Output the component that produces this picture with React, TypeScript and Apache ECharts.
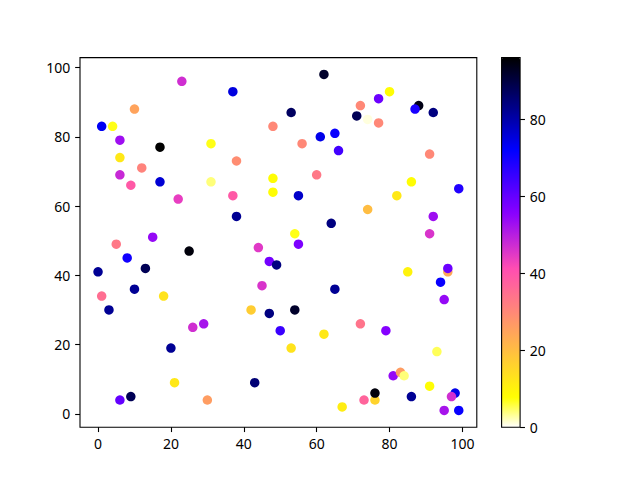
import React, { useEffect, useRef } from "react";
import * as echarts from "echarts";

// Scatter data: x, y and colour value
const xs = [
  23, 37, 10, 1, 4, 48, 6, 17, 31, 38, 6, 12, 6, 9, 17, 31, 22, 37, 48, 48, 38, 15, 5, 5, 44,
  62, 80, 77, 72, 88, 87, 92, 53, 71, 74, 77, 61, 65, 56, 66, 91, 60, 86, 99, 55, 82, 74, 64, 92, 91, 54, 55,
  25, 8, 47, 49, 0, 13, 45, 1, 10, 18, 3, 42, 47, 50, 26, 29, 20, 21, 43, 6, 9, 30,
  85, 96, 96, 94, 65, 95, 54, 72, 79, 62, 53, 93, 81, 83, 84, 91, 98, 97, 76, 76, 73, 86, 67, 95, 99,
];
const ys = [
  96, 93, 88, 83, 83, 83, 79, 77, 78, 73, 74, 71, 69, 66, 67, 67, 62, 63, 68, 64, 57, 51, 48, 49, 48,
  98, 93, 91, 89, 89, 88, 87, 87, 86, 85, 84, 80, 81, 78, 76, 75, 69, 67, 65, 63, 63, 59, 55, 57, 52, 52, 49,
  47, 45, 44, 43, 41, 42, 37, 34, 36, 34, 30, 30, 29, 24, 25, 26, 19, 9, 9, 4, 5, 4,
  41, 41, 42, 38, 36, 33, 30, 26, 24, 23, 19, 18, 11, 12, 11, 8, 6, 5, 4, 6, 4, 5, 2, 1, 1,
];
const cs = [
  47, 75, 25, 73, 7, 30, 53, 96, 7, 29, 12, 31, 48, 39, 76, 4, 44, 39, 8, 8, 82, 54, 0, 33, 45,
  92, 8, 59, 30, 94, 69, 84, 87, 88, 1, 30, 74, 71, 30, 64, 30, 33, 8, 68, 77, 12, 20, 84, 53, 46, 7, 57,
  95, 70, 58, 84, 82, 88, 46, 35, 82, 13, 82, 17, 84, 65, 47, 52, 82, 12, 85, 60, 88, 26,
  10, 24, 59, 71, 82, 54, 92, 34, 56, 12, 13, 5, 54, 26, 4, 8, 74, 47, 16, 95, 37, 82, 11, 52, 71,
];
const xTicks = [0, 20, 40, 60, 80, 100];
const yTicks = [0, 20, 40, 60, 80, 100];
const cbTicks = [0, 20, 40, 60, 80];
const cMin = 0;
const cMax = 96;

// matplotlib "gnuplot2" colormap, used reversed
function gnuplot2(t: number): string {
  const clip = (v: number) => Math.max(0, Math.min(1, v));
  const r = clip(t / 0.32 - 0.78125);
  const g = clip(2 * t - 0.84);
  const b = clip(t < 0.25 ? 4 * t : t < 0.92 ? -2 * t + 1.84 : t / 0.08 - 11.5);
  const h = (v: number) => Math.round(v * 255).toString(16).padStart(2, "0");
  return "#" + h(r) + h(g) + h(b);
}
const N = 128;
const cmapStops: string[] = [];
for (let k = 0; k <= N; k++) cmapStops.push(gnuplot2(1 - k / N));

const FONT = "Noto Sans";

export default function App() {
  const ref = useRef<HTMLDivElement>(null);
  useEffect(() => {
    if (!ref.current) return;
    const chart = echarts.init(ref.current, null, { renderer: "svg" });
    const label = { color: "#000", fontSize: 14, fontFamily: FONT };
    const tick = { show: true, length: 4.86, lineStyle: { color: "#000", width: 1.1 } };
    chart.setOption({
      animation: false,
      backgroundColor: "#fff",
      grid: [
        { left: 80, top: 57.6, width: 396.8, height: 369.6, show: true, borderColor: "#000", borderWidth: 1.1, backgroundColor: "transparent" },
        { left: 501.6, top: 57.6, width: 18.5, height: 369.6, show: true, borderColor: "#000", borderWidth: 1.1, backgroundColor: "transparent", z: 10 },
      ],
      xAxis: [
        {
          type: "value", gridIndex: 0, min: -4.95, max: 103.95,
          splitLine: { show: false }, axisLine: { show: false, onZero: false },
          axisTick: { ...tick, customValues: xTicks },
          axisLabel: { ...label, margin: 9.7, customValues: xTicks },
        },
        { type: "value", gridIndex: 1, min: 0, max: 1, show: false },
      ],
      yAxis: [
        {
          type: "value", gridIndex: 0, min: -3.85, max: 102.85,
          splitLine: { show: false }, axisLine: { show: false, onZero: false },
          axisTick: { ...tick, customValues: yTicks },
          axisLabel: { ...label, margin: 9.7, customValues: yTicks },
        },
        {
          type: "value", gridIndex: 1, position: "right", min: cMin, max: cMax,
          splitLine: { show: false }, axisLine: { show: false, onZero: false },
          axisTick: { ...tick, customValues: cbTicks },
          axisLabel: { ...label, margin: 9.7, customValues: cbTicks },
        },
      ],
      visualMap: {
        type: "continuous", min: cMin, max: cMax, dimension: 2, seriesIndex: 0,
        left: 501.6, top: 57.6, itemWidth: 18.5, itemHeight: 369.6, padding: 0,
        calculable: false, hoverLink: false, showLabel: false,
        inRange: { color: cmapStops, opacity: 1 },
      },
      series: [
        {
          type: "scatter", xAxisIndex: 0, yAxisIndex: 0, symbolSize: 9.5,
          itemStyle: { opacity: 1 },
          data: xs.map((x, i) => [x, ys[i], cs[i]]),
          emphasis: { disabled: true },
        },
        { type: "scatter", xAxisIndex: 1, yAxisIndex: 1, data: [], silent: true },
      ],
    });
    return () => chart.dispose();
  }, []);
  return <div ref={ref} style={{ position: "fixed", left: 0, top: 0, width: 640, height: 480 }} />;
}
